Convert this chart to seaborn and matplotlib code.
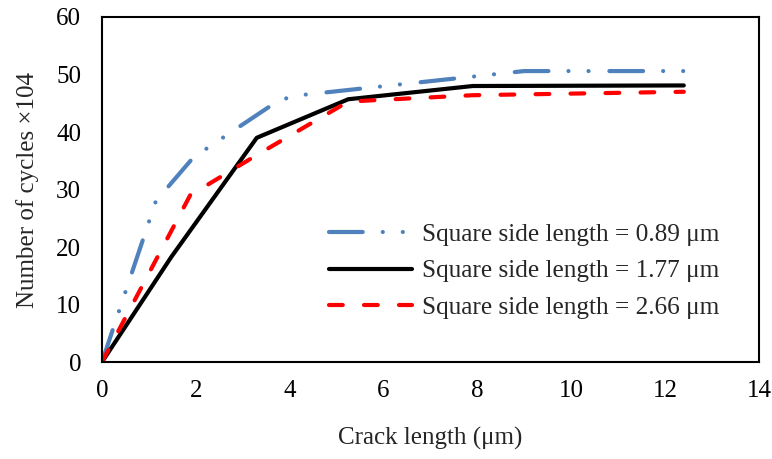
import seaborn as sns
import matplotlib.pyplot as plt

# crack length (um) vs number of cycles (x10^4)
x_089 = [0, 1.15, 1.95, 3.75, 4.1, 9.0, 12.4]
y_089 = [0, 28.0, 35.6, 45.4, 46.3, 50.6, 50.6]

x_177 = [0, 1.48, 3.3, 5.25, 7.9, 12.4]
y_177 = [0, 18.3, 39.0, 45.7, 48.0, 48.1]

x_266 = [0, 1.88, 3.3, 5.25, 7.9, 12.4]
y_266 = [0, 29.0, 36.0, 45.3, 46.4, 47.0]

labels = ['Square side length = 0.89 \u03bcm',
          'Square side length = 1.77 \u03bcm',
          'Square side length = 2.66 \u03bcm']

sns.set_style('white')
plt.rcParams['font.family'] = ['Liberation Serif', 'DejaVu Serif']

fig = plt.figure(figsize=(7.72, 4.59), dpi=100)
ax = fig.add_axes([0.132, 0.211, 0.851, 0.752])

series = [(x_089, y_089, '#4f81bd', [8.1, 4.8, 0.01, 4.8, 0.01, 5.0]),
          (x_177, y_177, 'black', None),
          (x_266, y_266, '#ff0000', [3.3, 5.1])]

handles = []
for (xs, ys, c, dash), lab in zip(series, labels):
    sns.lineplot(x=xs, y=ys, ax=ax, color=c, linewidth=3, sort=False,
                 estimator=None, label=lab)
    ln = ax.lines[-1]
    if dash is not None:
        ln.set_dashes(dash)
    ln.set_dash_capstyle('round')
    ln.set_solid_capstyle('round')
    handles.append(ln)

ax.set_xlim(0, 14)
ax.set_ylim(0, 60)
ax.set_xticks(range(0, 15, 2))
ax.set_yticks(range(0, 61, 10))
ax.tick_params(axis='both', direction='in', length=5, width=1.2,
               labelsize=18, colors='black')
ax.tick_params(axis='x', pad=13)
ax.tick_params(axis='y', pad=15)
for s in ax.spines.values():
    s.set_color('black')
    s.set_linewidth(1.5)

ax.set_xlabel('Crack length (\u03bcm)', fontsize=18, labelpad=18)
ax.set_ylabel('Number of cycles \u00d7104', fontsize=18, labelpad=12)

ax.legend(handles, labels, loc='center left', bbox_to_anchor=(0.33, 0.264),
          borderaxespad=0, frameon=False, fontsize=18.2, handlelength=3.3,
          handletextpad=0.4, labelspacing=0.55)

fig.savefig('out.png', dpi=100)
